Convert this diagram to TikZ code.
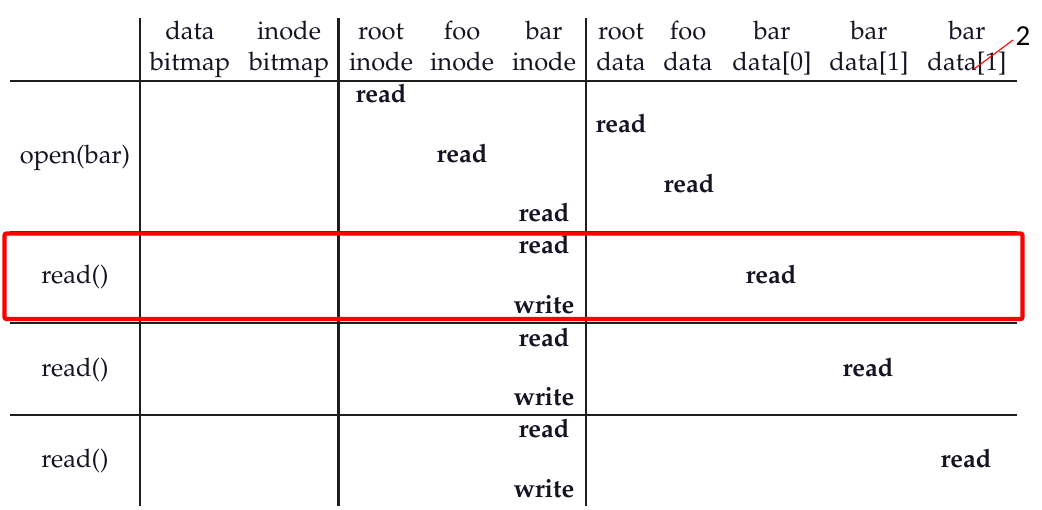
\documentclass[tikz,border=0pt]{standalone}
\usepackage{fontspec}
\newfontfamily\numfont{Carlito}
\usepackage[T1]{fontenc}
\usepackage{mathpazo}
\begin{document}
\begin{tikzpicture}[x=1pt,y=-1pt,
  rule/.style={line width=2.8pt,draw={rgb,255:red,30;green,30;blue,30}},
  txt/.style={anchor=base,inner sep=0pt,font=\fontsize{25.5}{30}\selectfont,text={rgb,255:red,20;green,20;blue,35}},
  op/.style={txt,font=\fontsize{25.5}{30}\selectfont\bfseries},
  hl/.style={draw=red,line width=4.2pt,rounded corners=2pt},
  redmark/.style={draw=red,line width=1.1pt}]
\useasboundingbox (0,0) rectangle (1042,509);
% table rules
\coordinate (v1t) at (140,18);   \coordinate (v1b) at (140,506);
\coordinate (v2t) at (338.5,18); \coordinate (v2b) at (338.5,506);
\coordinate (v3t) at (586,18);   \coordinate (v3b) at (586,506);
\draw[rule] (v1t) -- (v1b);
\draw[rule] (v2t) -- (v2b);
\draw[rule] (v3t) -- (v3b);
\foreach \y in {81,232,323,415} \draw[rule] (10,\y) -- (1017,\y);
% header
\node[txt] (h1a) at (190,39) {data};   \node[txt] (h1b) at (190,70) {bitmap};
\node[txt] (h2a) at (289,39) {inode};  \node[txt] (h2b) at (289,70) {bitmap};
\node[txt] (h3a) at (381,39) {root};   \node[txt] (h3b) at (381,70) {inode};
\node[txt] (h4a) at (462,39) {foo};    \node[txt] (h4b) at (462,70) {inode};
\node[txt] (h5a) at (544,39) {bar};    \node[txt] (h5b) at (544,70) {inode};
\node[txt] (h6a) at (621,39) {root};   \node[txt] (h6b) at (621,70) {data};
\node[txt] (h7a) at (688,39) {foo};    \node[txt] (h7b) at (688,70) {data};
\node[txt] (h8a) at (772,39) {bar};    \node[txt] (h8b) at (772,70) {data[0]};
\node[txt] (h9a) at (869,39) {bar};    \node[txt] (h9b) at (869,70) {data[1]};
\node[txt] (h10a) at (967,39) {bar};   \node[txt] (h10b) at (967,70) {data[1]};
% row labels
\node[txt] (r1) at (75,163) {open(bar)};
\node[txt] (r2) at (75,283) {read()};
\node[txt] (r3) at (75,376) {read()};
\node[txt] (r4) at (75,467) {read()};
% open(bar)
\node[op] (o1) at (381,102) {read};
\node[op] (o2) at (621,132) {read};
\node[op] (o3) at (462,162) {read};
\node[op] (o4) at (689,192) {read};
\node[op] (o5) at (544,221) {read};
% read() 1
\node[op] (a1) at (544,253) {read};
\node[op] (a2) at (771,283) {read};
\node[op] (a3) at (544,313) {write};
% read() 2
\node[op] (b1) at (544,346) {read};
\node[op] (b2) at (868,376) {read};
\node[op] (b3) at (544,405) {write};
% read() 3
\node[op] (c1) at (544,437) {read};
\node[op] (c2) at (966,467) {read};
\node[op] (c3) at (544,497) {write};
% highlight
\draw[hl] (4.5,233.5) rectangle (1022.5,319);
% annotation
\node[inner sep=0pt,font=\numfont\fontsize{29}{29}\selectfont] (num) at (1023,36) {2};
\coordinate (mk) at (974,69);
\draw[redmark] (mk) -- (1013,40);
\end{tikzpicture}
\end{document}
